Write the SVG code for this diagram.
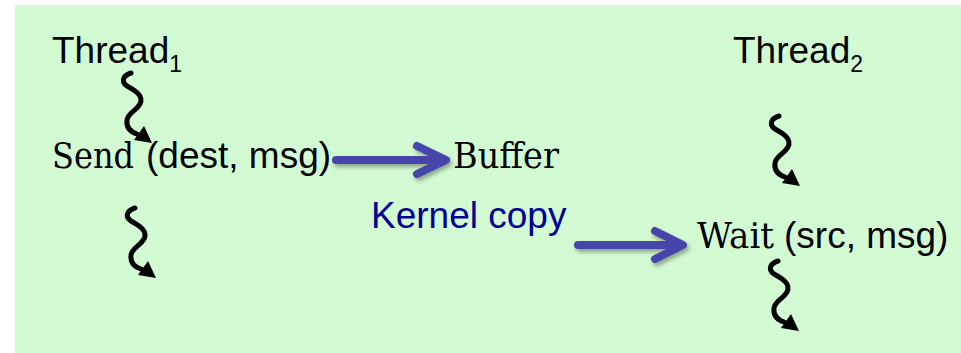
<svg xmlns="http://www.w3.org/2000/svg" xmlns:xlink="http://www.w3.org/1999/xlink" width="961" height="353" viewBox="0 0 961 353">
  <style>
    .sans { font-family: "Liberation Sans", Arial, sans-serif; fill: #000; }
    .label { font-size: 37px; }
    .sub { font-size: 23px; }
    .mono { font-family: "DejaVu Serif", "Liberation Serif", serif; font-size: 35px; fill: #000; }
    .kernel { font-family: "Liberation Sans", Arial, sans-serif; font-size: 37px; fill: #000099; }
    .flow { fill: none; stroke: #4444aa; stroke-width: 8; stroke-linecap: round; stroke-linejoin: round; }
    .wave { fill: none; stroke: #000; stroke-width: 5; stroke-linecap: round; }
  </style>
  <defs>
    <filter id="shadow" x="-20%" y="-50%" width="140%" height="200%">
      <feDropShadow dx="2" dy="3" stdDeviation="2" flood-color="#000" flood-opacity="0.35"/>
    </filter>
    <!-- wavy thread-of-execution arrow, origin at its top hook -->
    <symbol id="squiggle" overflow="visible">
      <path class="wave" d="M 4,0 C -3,2 -7,8 0,13 C 9,18 17,23 13,31 C 9,38 1,40 0,47 C -1,55 4,59 10,61"/>
      <polygon points="25,70 7,67 17,53" fill="#000"/>
    </symbol>
  </defs>

  <rect x="15" y="5" width="946" height="348" fill="#d3fbd3"/>

  <g id="connectors">
    <g filter="url(#shadow)">
      <path class="flow" d="M 336,160 H 444 M 417,146 L 446,160 L 417,174"/>
      <path class="flow" d="M 578,245 H 680 M 655,231 L 683,245 L 655,259"/>
    </g>
    <use xlink:href="#squiggle" x="127" y="73"/>
    <use xlink:href="#squiggle" x="131" y="208"/>
    <use xlink:href="#squiggle" x="775" y="116"/>
    <use xlink:href="#squiggle" x="774" y="261"/>
  </g>

  <g id="thread1">
    <text class="sans label" x="52" y="63">Thread<tspan class="sub" dy="9">1</tspan></text>
  </g>

  <g id="thread2">
    <text class="sans label" x="733" y="63">Thread<tspan class="sub" dy="9">2</tspan></text>
  </g>

  <g id="send">
    <text class="mono" x="52" y="168" textLength="82" lengthAdjust="spacingAndGlyphs">Send</text>
    <text class="sans label" x="146" y="168">(dest, msg)</text>
  </g>

  <g id="buffer">
    <text class="mono" x="453" y="168" textLength="106" lengthAdjust="spacingAndGlyphs">Buffer</text>
  </g>

  <g id="kernel-copy">
    <text class="kernel" x="371" y="228">Kernel copy</text>
  </g>

  <g id="wait">
    <text class="mono" x="697" y="248" textLength="77" lengthAdjust="spacingAndGlyphs">Wait</text>
    <text class="sans label" x="784" y="248">(src, msg)</text>
  </g>
</svg>
